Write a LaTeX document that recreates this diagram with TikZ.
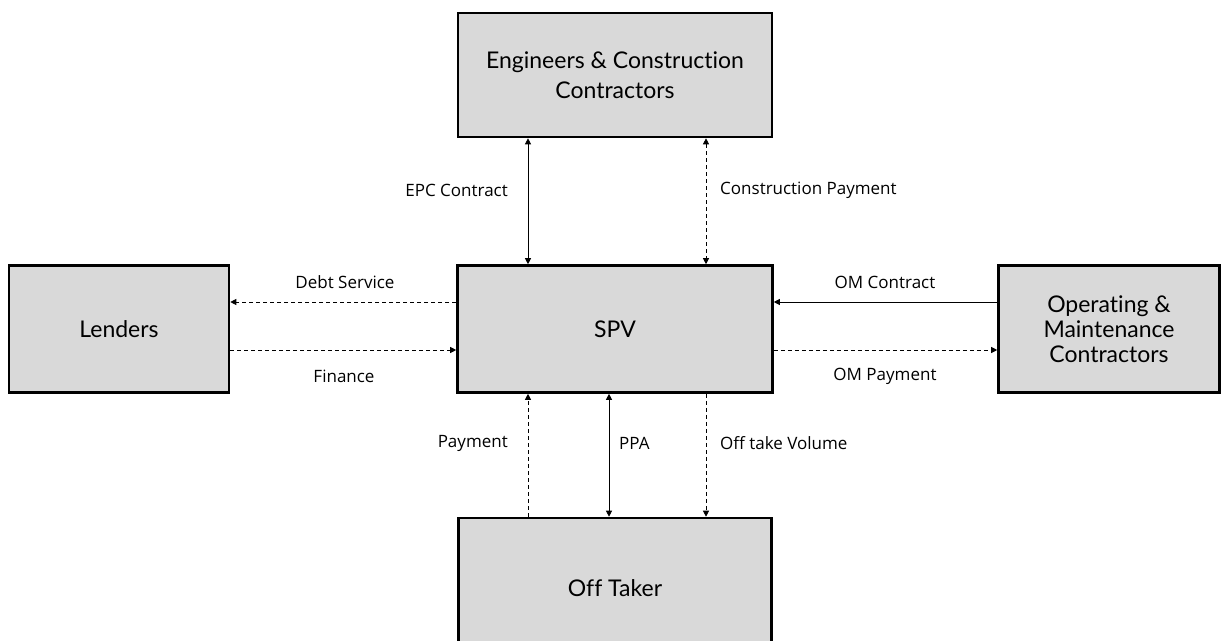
\documentclass[tikz,border=0pt]{standalone}
\usepackage{fontspec}
\setmainfont{Lato}[Ligatures={NoCommon}]
\newfontfamily\labfont{Open Sans}
\usetikzlibrary{arrows.meta}
\definecolor{boxgray}{HTML}{D9D9D9}
\begin{document}
\begin{tikzpicture}[x=1pt,y=-1pt,
  entity/.style={draw=black,line width=2.6pt,fill=boxgray,align=center,font=\fontsize{23}{30}\selectfont,inner sep=0pt},
  lab/.style={font=\labfont\fontsize{17}{19}\selectfont,inner sep=0pt},
  conn/.style={line width=0.8pt,-{Triangle[length=6pt,width=6pt]}},
  bconn/.style={line width=0.8pt,{Triangle[length=6pt,width=6pt]}-{Triangle[length=6pt,width=6pt]}},
  dsh/.style={dash pattern=on 4pt off 3pt}]
\useasboundingbox (0,0) rectangle (1223,640);
% boxes
\node[entity,minimum width=314pt,minimum height=124pt] (ec) at (615,75) {Engineers \& Construction\\Contractors};
\node[entity,minimum width=220pt,minimum height=127pt] (len) at (119,329) {Lenders};
\node[entity,minimum width=315pt,minimum height=127pt] (spv) at (615,329) {SPV};
\node[entity,minimum width=221pt,minimum height=127pt,font=\fontsize{23}{25}\selectfont] (om) at (1109,329) {Operating \&\\Maintenance\\Contractors};
\node[entity,minimum width=313pt,minimum height=140pt] (off) at (615,588) {Off Taker};
% guide coordinates
\coordinate (xa) at (528,0);
\coordinate (xb) at (706,0);
\coordinate (xc) at (609,0);
\coordinate (ya) at (0,302);
\coordinate (yb) at (0,350);
% top connectors
\draw[bconn] (ec.south -| xa) -- (spv.north -| xa);
\draw[bconn,dsh] (ec.south -| xb) -- (spv.north -| xb);
% left connectors
\draw[conn,dsh] (spv.west |- ya) -- (len.east |- ya);
\draw[conn,dsh] (len.east |- yb) -- (spv.west |- yb);
% right connectors
\draw[conn] (om.west |- ya) -- (spv.east |- ya);
\draw[conn,dsh] (spv.east |- yb) -- (om.west |- yb);
% bottom connectors
\draw[conn,dsh] (off.north -| xa) -- (spv.south -| xa);
\draw[bconn] (spv.south -| xc) -- (off.north -| xc);
\draw[conn,dsh] (spv.south -| xb) -- (off.north -| xb);
% labels
\node[lab,anchor=east] (l1) at (508,190) {EPC Contract};
\node[lab,anchor=west] (l2) at (720,190) {Construction Payment};
\node[lab] (l3) at (345,282) {Debt Service};
\node[lab] (l4) at (344,376) {Finance};
\node[lab] (l5) at (885,282) {OM Contract};
\node[lab] (l6) at (885,376) {OM Payment};
\node[lab,anchor=east] (l7) at (508,443) {Payment};
\node[lab,anchor=west] (l8) at (619,443) {PPA};
\node[lab,anchor=west] (l9) at (720,443) {Off take Volume};
\end{tikzpicture}
\end{document}
